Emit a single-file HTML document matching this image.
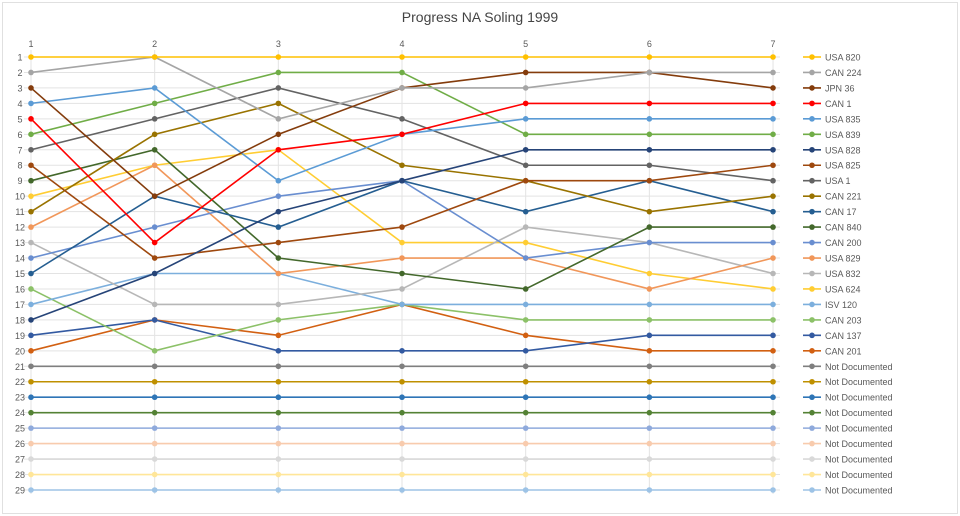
<!DOCTYPE html>
<html><head><meta charset="utf-8"><style>
html,body{margin:0;padding:0;background:#fff;}
svg{display:block;font-family:"Liberation Sans",Arial,sans-serif;}
</style></head><body>
<svg id="s" width="960" height="516" xmlns="http://www.w3.org/2000/svg"></svg>
<script>
const s=document.getElementById('s');
const X=i=>31+(i-1)*123.67, Y=r=>57+(r-1)*15.464;
let h='<rect width="960" height="516" fill="#fff"/><rect x="2.5" y="2.5" width="955" height="511" fill="none" stroke="#e0e0e0"/>';
h+='<text x="480" y="22" text-anchor="middle" font-size="14" fill="#444">Progress NA Soling 1999</text>';
for(let r=1;r<=29;r++){h+=`<line x1="24" x2="780" y1="${Y(r)}" y2="${Y(r)}" stroke="#e3e3e3" stroke-width="1"/>`;
h+=`<text x="20" y="${Y(r)+3.5}" text-anchor="middle" font-size="9" fill="#595959">${r}</text>`;}
for(let i=1;i<=7;i++){h+=`<line x1="${X(i)}" x2="${X(i)}" y1="50" y2="494" stroke="#e3e3e3"/>`;
h+=`<text x="${X(i)}" y="47" text-anchor="middle" font-size="9" fill="#595959">${i}</text>`;}
const S=[
["USA 820","#FFC000",[1,1,1,1,1,1,1]],
["CAN 224","#A5A5A5",[2,1,5,3,3,2,2]],
["JPN 36","#843C0C",[3,10,6,3,2,2,3]],
["CAN 1","#FF0000",[5,13,7,6,4,4,4]],
["USA 835","#5B9BD5",[4,3,9,6,5,5,5]],
["USA 839","#70AD47",[6,4,2,2,6,6,6]],
["USA 828","#264478",[18,15,11,9,7,7,7]],
["USA 825","#9E480E",[8,14,13,12,9,9,8]],
["USA 1","#636363",[7,5,3,5,8,8,9]],
["CAN 221","#997300",[11,6,4,8,9,11,10]],
["CAN 17","#255E91",[15,10,12,9,11,9,11]],
["CAN 840","#43682B",[9,7,14,15,16,12,12]],
["CAN 200","#698ED0",[14,12,10,9,14,13,13]],
["USA 829","#F1975A",[12,8,15,14,14,16,14]],
["USA 832","#B7B7B7",[13,17,17,16,12,13,15]],
["USA 624","#FFCD33",[10,8,7,13,13,15,16]],
["ISV 120","#7CAFDD",[17,15,15,17,17,17,17]],
["CAN 203","#8CC168",[16,20,18,17,18,18,18]],
["CAN 137","#335AA1",[19,18,20,20,20,19,19]],
["CAN 201","#D26012",[20,18,19,17,19,20,20]]];
const nd=["#7F7F7F","#BF9000","#2E75B6","#548235","#8FAADC","#F8CBAD","#D9D9D9","#FFE699","#9DC3E6"];
nd.forEach((c,k)=>{const r=21+k;S.push(["Not Documented",c,[r,r,r,r,r,r,r]]);});
for(let j=S.length-1;j>=0;j--){const [n,c,d]=S[j];
h+=`<polyline fill="none" stroke="${c}" stroke-width="1.6" points="${d.map((r,i)=>X(i+1)+','+Y(r)).join(' ')}"/>`;
d.forEach((r,i)=>h+=`<circle cx="${X(i+1)}" cy="${Y(r)}" r="2.8" fill="${c}"/>`);}
S.forEach(([n,c],j)=>{const y=Y(j+1);
h+=`<line x1="803" x2="821" y1="${y}" y2="${y}" stroke="${c}" stroke-width="1.6"/><circle cx="812" cy="${y}" r="2.8" fill="${c}"/>`;
h+=`<text x="825" y="${y+3.5}" font-size="9" fill="#595959">${n}</text>`;});
s.innerHTML=h;
</script>
</body></html>
